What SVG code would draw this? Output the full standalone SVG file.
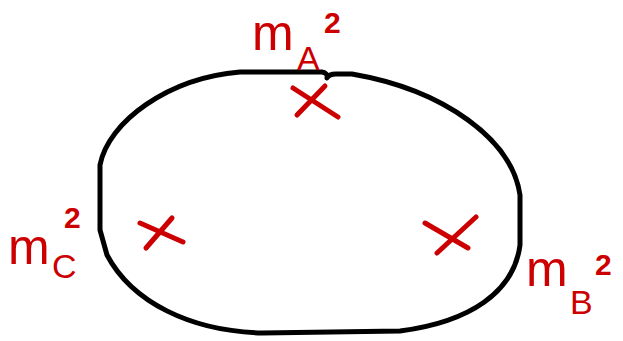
<svg xmlns="http://www.w3.org/2000/svg" width="623" height="341" viewBox="0 0 623 341">
<style>
.loop{fill:none;stroke:#000;stroke-width:5;stroke-linecap:round;stroke-linejoin:round}
.x{fill:none;stroke:#cc0000;stroke-width:5;stroke-linecap:round}
.lbl{fill:#cc0000;font-family:"Liberation Sans",Arial,sans-serif}
.m{font-size:50px}
.sub{font-size:34px}
.sup{font-size:30px;font-weight:bold}
</style>
<rect width="623" height="341" fill="#fff"/>
<g id="connectors">
<path class="loop" d="M240 72 L322 72 Q328 73 327 78 Q329 74 336 74 L352 74 C445 90 512 140 520 195 L520 245 C514 292 470 322 400 331 L262 333 C190 331 132 302 107 255 L100 230 L100 165 C108 122 168 78 240 72 Z"/>
</g>
<g id="crossA"><path class="x" d="M293 88 L338 117 M297 115 L325 86"/></g>
<g id="crossC"><path class="x" d="M140 223 L183 242 M146 248 L172 218"/></g>
<g id="crossB"><path class="x" d="M425 223 L468 248 M437 253 L476 217"/></g>
<g id="labelA" class="lbl"><text class="m" x="252" y="50">m</text><text class="sub" x="297" y="70">A</text><text class="sup" x="324" y="33">2</text></g>
<g id="labelC" class="lbl"><text class="m" x="8" y="264">m</text><text class="sub" x="52" y="278">C</text><text class="sup" x="64" y="228">2</text></g>
<g id="labelB" class="lbl"><text class="m" x="526" y="286">m</text><text class="sub" x="570" y="314">B</text><text class="sup" x="595" y="275">2</text></g>
</svg>
